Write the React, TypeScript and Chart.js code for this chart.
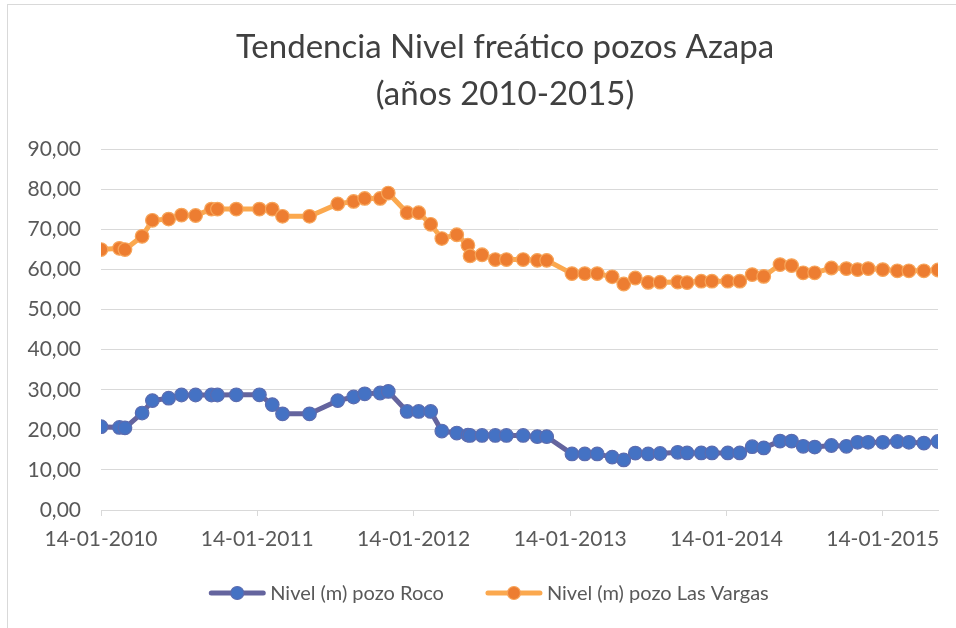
import { useEffect, useRef } from 'react';
import { Chart, registerables } from 'chart.js';

Chart.register(...registerables);

const TITLE = ['Tendencia Nivel freático pozos Azapa', '(años 2010-2015)'];
const SERIES_LABELS = ['Nivel (m) pozo Roco', 'Nivel (m) pozo Las Vargas'];

const DATES = [
  '2010-01-14', '2010-02-26', '2010-03-11', '2010-04-20', '2010-05-14', '2010-06-21',
  '2010-07-21', '2010-08-23', '2010-09-29', '2010-10-13', '2010-11-26', '2011-01-19',
  '2011-02-18', '2011-03-14', '2011-05-16', '2011-07-21', '2011-08-27', '2011-09-22',
  '2011-10-28', '2011-11-16', '2011-12-30', '2012-01-26', '2012-02-23', '2012-03-20',
  '2012-04-24', '2012-05-20', '2012-05-25', '2012-06-22', '2012-07-23', '2012-08-18',
  '2012-09-26', '2012-10-29', '2012-11-20', '2013-01-18', '2013-02-17', '2013-03-18',
  '2013-04-22', '2013-05-19', '2013-06-15', '2013-07-15', '2013-08-12', '2013-09-22',
  '2013-10-14', '2013-11-16', '2013-12-11', '2014-01-17', '2014-02-14', '2014-03-15',
  '2014-04-11', '2014-05-19', '2014-06-15', '2014-07-12', '2014-08-08', '2014-09-16',
  '2014-10-21', '2014-11-16', '2014-12-11', '2015-01-14', '2015-02-17', '2015-03-16',
  '2015-04-20', '2015-05-23',
];

const ROCO = [
  20.8, 20.6, 20.5, 24.2, 27.3, 27.9, 28.7, 28.7, 28.7, 28.7, 28.75, 28.75,
  26.3, 24.0, 24.0, 27.3, 28.2, 29.0, 29.2, 29.6, 24.6, 24.6, 24.6, 19.7,
  19.2, 18.7, 18.6, 18.6, 18.6, 18.6, 18.6, 18.3, 18.3, 14.0, 14.0, 14.0,
  13.2, 12.5, 14.2, 14.0, 14.1, 14.4, 14.25, 14.25, 14.25, 14.25, 14.25, 15.8,
  15.5, 17.2, 17.2, 15.9, 15.7, 16.1, 15.9, 16.9, 16.9, 16.9, 17.1, 16.9,
  16.7, 17.1,
];

const LAS_VARGAS = [
  65.0, 65.3, 65.0, 68.3, 72.3, 72.6, 73.6, 73.5, 75.1, 75.1, 75.1, 75.1,
  75.1, 73.3, 73.3, 76.4, 77.0, 77.75, 77.75, 79.1, 74.2, 74.2, 71.3, 67.75,
  68.7, 66.1, 63.4, 63.7, 62.5, 62.5, 62.5, 62.3, 62.3, 59.0, 59.0, 59.0,
  58.2, 56.4, 57.9, 56.8, 56.85, 56.9, 56.75, 57.1, 57.1, 57.1, 57.1, 58.75,
  58.3, 61.25, 61.0, 59.2, 59.2, 60.4, 60.25, 60.0, 60.25, 60.0, 59.7, 59.7,
  59.7, 59.9,
];

const X_TICKS = ['2010-01-14', '2011-01-14', '2012-01-14', '2013-01-14', '2014-01-14', '2015-01-14'];
const Y_MIN = 0;
const Y_MAX = 90;
const Y_STEP = 10;

const FONT = 'Lato';
const CANVAS_W = 1010;
const CANVAS_H = 628;

function toDay(s: string): number {
  const [y, m, d] = s.split('-').map(Number);
  return Date.UTC(y, m - 1, d) / 86400000;
}

function pad2(n: number): string {
  return n < 10 ? '0' + n : String(n);
}

function fmtDay(day: number): string {
  const dt = new Date(Math.round(day) * 86400000);
  return `${pad2(dt.getUTCDate())}-${pad2(dt.getUTCMonth() + 1)}-${dt.getUTCFullYear()}`;
}

const legendPlugin = {
  id: 'lineMarkerLegend',
  afterDraw(chart: any) {
    const ctx = chart.ctx as CanvasRenderingContext2D;
    ctx.save();
    ctx.font = `20px ${FONT}`;
    const lineLen = 56;
    const gap = 5;
    const itemGap = 42;
    const items = chart.data.datasets.map((ds: any) => ({
      label: ds.label as string,
      line: ds.borderColor as string,
      fill: ds.pointBackgroundColor as string,
      stroke: ds.pointBorderColor as string,
      w: lineLen + gap + ctx.measureText(ds.label).width,
    }));
    const total = items.reduce((s: number, it: any) => s + it.w, 0) + itemGap * (items.length - 1);
    let x = 489 - total / 2;
    const y = 593;
    for (const it of items) {
      ctx.beginPath();
      ctx.strokeStyle = it.line;
      ctx.lineWidth = 5;
      ctx.lineCap = 'round';
      ctx.moveTo(x + 2, y);
      ctx.lineTo(x + lineLen - 2, y);
      ctx.stroke();
      ctx.beginPath();
      ctx.arc(x + lineLen / 2, y, 6.5, 0, Math.PI * 2);
      ctx.fillStyle = it.fill;
      ctx.fill();
      ctx.lineWidth = 1.2;
      ctx.strokeStyle = it.stroke;
      ctx.stroke();
      ctx.fillStyle = '#595959';
      ctx.textBaseline = 'middle';
      ctx.textAlign = 'left';
      ctx.fillText(it.label, x + lineLen + gap, y + 1);
      x += it.w + itemGap;
    }
    ctx.restore();
  },
};

export default function App() {
  const canvasRef = useRef<HTMLCanvasElement | null>(null);

  useEffect(() => {
    if (!canvasRef.current) return;
    const days = DATES.map(toDay);
    const chart = new Chart(canvasRef.current, {
      type: 'line',
      data: {
        datasets: [
          {
            label: SERIES_LABELS[0],
            data: days.map((d, i) => ({ x: d, y: ROCO[i] })),
            borderColor: '#64649E',
            borderWidth: 5,
            pointBackgroundColor: '#4472C4',
            pointBorderColor: '#5B6CB0',
            pointBorderWidth: 1.2,
            pointRadius: 6.8,
            tension: 0,
          },
          {
            label: SERIES_LABELS[1],
            data: days.map((d, i) => ({ x: d, y: LAS_VARGAS[i] })),
            borderColor: '#FBA84E',
            borderWidth: 5,
            pointBackgroundColor: '#ED7D31',
            pointBorderColor: '#F7A55A',
            pointBorderWidth: 1.2,
            pointRadius: 6.8,
            tension: 0,
          },
        ],
      },
      options: {
        animation: false,
        responsive: false,
        maintainAspectRatio: false,
        layout: { padding: 0 },
        plugins: {
          legend: { display: false },
          tooltip: { enabled: false },
          title: {
            display: true,
            text: TITLE,
            color: '#404040',
            font: { family: FONT, size: 33, weight: 'normal', lineHeight: 1.43 },
            padding: { top: 24, bottom: 31 },
          },
        },
        scales: {
          x: {
            type: 'linear',
            min: toDay(DATES[0]),
            max: toDay(DATES[DATES.length - 1]),
            afterBuildTicks: (scale: any) => {
              scale.ticks = X_TICKS.map((s) => ({ value: toDay(s) }));
            },
            afterFit: (scale: any) => {
              scale.height = 118;
            },
            ticks: {
              autoSkip: false,
              maxRotation: 0,
              minRotation: 0,
              padding: 11,
              color: '#595959',
              font: { family: FONT, size: 21 },
              callback: (v: any) => fmtDay(Number(v)),
            },
            grid: {
              drawOnChartArea: false,
              drawTicks: true,
              tickLength: 6,
              color: '#D9D9D9',
            },
            border: { display: true, color: '#D9D9D9' },
          },
          y: {
            min: Y_MIN,
            max: Y_MAX,
            afterFit: (scale: any) => {
              scale.width = 101;
            },
            ticks: {
              stepSize: Y_STEP,
              padding: 20,
              color: '#595959',
              font: { family: FONT, size: 21 },
              callback: (v: any) => Number(v).toFixed(2).replace('.', ','),
            },
            grid: { color: '#D9D9D9', drawTicks: false },
            border: { display: false },
          },
          spacer: {
            type: 'linear',
            position: 'right',
            min: Y_MIN,
            max: Y_MAX,
            afterFit: (scale: any) => {
              scale.width = CANVAS_W - 938;
            },
            ticks: { display: false },
            grid: { display: false, drawTicks: false },
            border: { display: false },
          },
        },
      },
      plugins: [legendPlugin],
    });
    return () => chart.destroy();
  }, []);

  return (
    <div style={{ position: 'fixed', left: 0, top: 0, width: 956, height: 628, overflow: 'hidden', background: '#fff' }}>
      <div
        style={{
          position: 'absolute',
          left: 7,
          top: 4,
          width: 1000,
          height: 700,
          borderLeft: '1px solid #D9D9D9',
          borderTop: '1px solid #D9D9D9',
          pointerEvents: 'none',
        }}
      />
      <canvas
        ref={canvasRef}
        width={CANVAS_W}
        height={CANVAS_H}
        style={{ position: 'absolute', left: 0, top: 0, width: CANVAS_W, height: CANVAS_H }}
      />
    </div>
  );
}
